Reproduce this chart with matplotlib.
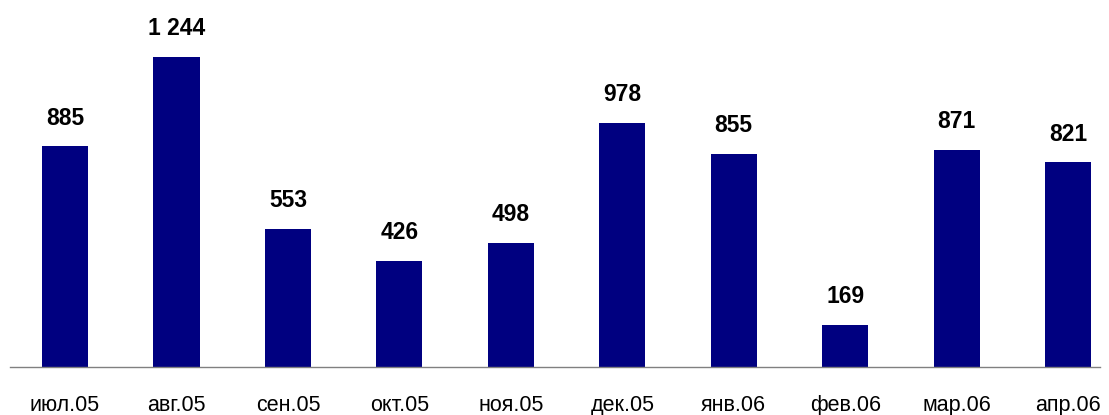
import matplotlib
matplotlib.use("Agg")
import matplotlib.pyplot as plt

months = ['июл.05', 'авг.05', 'сен.05', 'окт.05', 'ноя.05',
          'дек.05', 'янв.06', 'фев.06', 'мар.06', 'апр.06']
values = [885, 1244, 553, 426, 498, 978, 855, 169, 871, 821]
labels = ['885', '1 244', '553', '426', '498', '978', '855', '169', '871', '821']

plt.rcParams['font.family'] = ['Liberation Sans', 'DejaVu Sans']

fig = plt.figure(figsize=(11.09, 4.15), dpi=100)
# axes: left edge 10px, right 1100px, baseline at y=367px, top at 0
ax = fig.add_axes([10 / 1109, (415 - 367) / 415, 1090 / 1109, 367 / 415])

x = list(range(len(months)))
ax.bar(x, values, width=0.413, color='#000080')

for xi, v, lab in zip(x, values, labels):
    ax.annotate(lab, (xi, v), xytext=(0, 12), textcoords='offset points',
                ha='center', va='bottom', fontsize=16.5, fontweight='bold')

ax.set_xlim(-0.494, 9.287)
ax.set_ylim(0, 1472)
ax.set_xticks(x)
ax.set_xticklabels(months, fontsize=15.5)
ax.tick_params(axis='x', length=0, pad=20)
ax.set_yticks([])
for s in ['top', 'right', 'left']:
    ax.spines[s].set_visible(False)
ax.spines['bottom'].set_color('#808080')
ax.spines['bottom'].set_linewidth(1)

fig.savefig('out.png', dpi=100)
